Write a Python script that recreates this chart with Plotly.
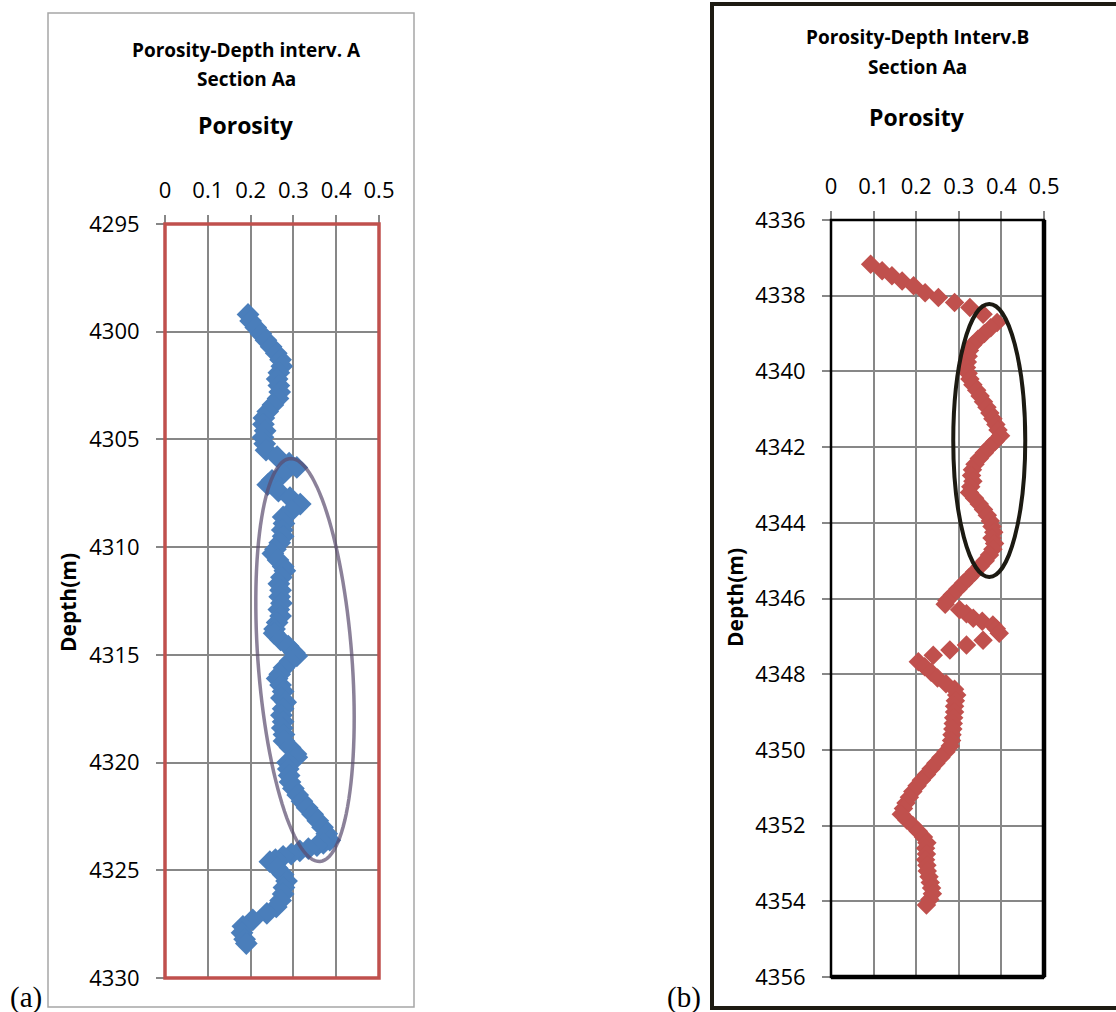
import numpy as np
import plotly.graph_objects as go

W, H = 1116, 1012

# ---------------- data ----------------
depth_a = [4299.2, 4299.5, 4299.8, 4300.1, 4300.4, 4300.7, 4301.0, 4301.3, 4301.6, 4301.9,
           4302.2, 4302.5, 4302.8, 4303.1, 4303.4, 4303.7, 4304.0, 4304.3, 4304.6, 4304.9,
           4305.2, 4305.5, 4305.8, 4306.1, 4306.3, 4306.6, 4306.9, 4307.1, 4307.4, 4307.7,
           4308.0, 4308.3, 4308.6, 4308.9, 4309.2, 4309.5, 4309.8, 4310.1, 4310.3, 4310.6,
           4310.9, 4311.1, 4311.4, 4311.7, 4312.0, 4312.3, 4312.6, 4312.9, 4313.2, 4313.5,
           4313.8, 4314.0, 4314.3, 4314.6, 4314.9, 4315.05, 4315.3, 4315.6, 4315.9, 4316.1,
           4316.4, 4316.7, 4317.0, 4317.2, 4317.5, 4317.8, 4318.1, 4318.4, 4318.7, 4319.0,
           4319.3, 4319.6, 4319.75, 4320.0, 4320.3, 4320.6, 4320.9, 4321.2, 4321.5, 4321.8,
           4322.1, 4322.4, 4322.7, 4323.0, 4323.3, 4323.6, 4323.75, 4323.85, 4324.0, 4324.1,
           4324.25, 4324.35, 4324.5, 4324.6,
           4324.9, 4325.2, 4325.5, 4325.8, 4326.1, 4326.4, 4326.7, 4327.0, 4327.3, 4327.6,
           4327.9, 4328.2, 4328.4]
poro_a = [0.194, 0.200, 0.212, 0.224, 0.236, 0.248, 0.260, 0.270, 0.273, 0.266,
          0.262, 0.266, 0.268, 0.264, 0.252, 0.240, 0.231, 0.230, 0.234, 0.229,
          0.233, 0.236, 0.262, 0.290, 0.308, 0.275, 0.250, 0.240, 0.265, 0.292,
          0.316, 0.296, 0.276, 0.278, 0.274, 0.276, 0.268, 0.258, 0.252, 0.264,
          0.276, 0.280, 0.272, 0.266, 0.270, 0.268, 0.272, 0.266, 0.270, 0.262,
          0.256, 0.255, 0.270, 0.288, 0.302, 0.308, 0.292, 0.278, 0.268, 0.262,
          0.270, 0.276, 0.272, 0.282, 0.276, 0.272, 0.276, 0.274, 0.278, 0.278,
          0.292, 0.306, 0.308, 0.286, 0.288, 0.290, 0.292, 0.300, 0.310, 0.320,
          0.332, 0.345, 0.357, 0.368, 0.378, 0.385, 0.370, 0.355, 0.335, 0.315,
          0.295, 0.276, 0.258, 0.245,
          0.262, 0.276, 0.284, 0.278, 0.276, 0.270, 0.260, 0.238, 0.205, 0.182,
          0.180, 0.186, 0.190]

depth_b = [4337.17, 4337.34, 4337.47, 4337.61, 4337.74, 4337.92, 4338.05, 4338.18, 4338.31, 4338.49,
           4338.71, 4338.85, 4339.0, 4339.15, 4339.3, 4339.45, 4339.6, 4339.75, 4339.9, 4340.05,
           4340.2, 4340.35, 4340.5, 4340.65, 4340.8, 4340.95, 4341.1, 4341.25, 4341.4, 4341.55,
           4341.7, 4341.85, 4342.0, 4342.15, 4342.3, 4342.45, 4342.6, 4342.75, 4342.9, 4343.05,
           4343.2, 4343.35, 4343.5, 4343.65, 4343.8, 4343.95, 4344.1, 4344.25, 4344.4, 4344.55,
           4344.7, 4344.85, 4345.0, 4345.15, 4345.3, 4345.45, 4345.6, 4345.75, 4345.9, 4346.05,
           4346.15, 4346.3, 4346.4, 4346.52, 4346.6, 4346.7, 4346.8, 4346.92, 4347.1, 4347.23,
           4347.36, 4347.5, 4347.67, 4347.8, 4347.95, 4348.1, 4348.25, 4348.4, 4348.55, 4348.7,
           4348.85, 4349.0, 4349.15, 4349.3, 4349.45, 4349.6, 4349.75, 4349.9, 4350.05, 4350.2,
           4350.35, 4350.5, 4350.65, 4350.8, 4350.95, 4351.1, 4351.25, 4351.4, 4351.55, 4351.7,
           4351.85, 4352.0, 4352.15, 4352.3, 4352.45, 4352.6, 4352.75, 4352.9, 4353.05, 4353.2,
           4353.35, 4353.5, 4353.65, 4353.8, 4353.95, 4354.1]
poro_b = [0.093, 0.120, 0.143, 0.167, 0.194, 0.221, 0.252, 0.290, 0.326, 0.357,
          0.390, 0.375, 0.360, 0.345, 0.332, 0.325, 0.322, 0.320, 0.318, 0.322,
          0.326, 0.333, 0.342, 0.350, 0.358, 0.366, 0.373, 0.380, 0.387, 0.392,
          0.398, 0.385, 0.372, 0.360, 0.348, 0.338, 0.332, 0.330, 0.333, 0.328,
          0.325, 0.337, 0.348, 0.358, 0.367, 0.374, 0.378, 0.382, 0.378, 0.384,
          0.380, 0.372, 0.362, 0.350, 0.337, 0.324, 0.311, 0.298, 0.285, 0.272,
          0.268, 0.302, 0.318, 0.334, 0.355, 0.380, 0.388, 0.395, 0.357, 0.318,
          0.279, 0.240, 0.205, 0.220, 0.235, 0.250, 0.270, 0.290, 0.295, 0.292,
          0.290, 0.290, 0.288, 0.287, 0.286, 0.284, 0.283, 0.280, 0.270, 0.258,
          0.246, 0.235, 0.224, 0.212, 0.202, 0.192, 0.184, 0.176, 0.170, 0.165,
          0.178, 0.192, 0.205, 0.217, 0.225, 0.222, 0.224, 0.222, 0.225, 0.226,
          0.230, 0.233, 0.236, 0.238, 0.232, 0.224]

x_ticks = [0, 0.1, 0.2, 0.3, 0.4, 0.5]
x_tick_labels = ["0", "0.1", "0.2", "0.3", "0.4", "0.5"]
y_ticks_a = [4295, 4300, 4305, 4310, 4315, 4320, 4325, 4330]
y_ticks_b = [4336, 4338, 4340, 4342, 4344, 4346, 4348, 4350, 4352, 4354, 4356]

# ---------------- layout geometry (pixels) ----------------
A_X0, A_X1, A_Y0, A_Y1 = 165, 379, 224, 978
B_X0, B_X1, B_Y0, B_Y1 = 831, 1044, 220, 977


def px(x):
    return x / W


def py(y):
    return 1 - y / H


FONT = "Open Sans"
fig = go.Figure()

fig.add_trace(go.Scatter(x=poro_a, y=depth_a, mode="markers", xaxis="x", yaxis="y",
                         marker=dict(symbol="diamond", size=17.5, color="#4a7ebb", line=dict(width=0)),
                         showlegend=False, hoverinfo="x+y"))
fig.add_trace(go.Scatter(x=poro_b, y=depth_b, mode="markers", xaxis="x2", yaxis="y2",
                         marker=dict(symbol="diamond", size=15, color="#c0504d", line=dict(width=0)),
                         showlegend=False, hoverinfo="x+y"))

axis_common = dict(showgrid=True, gridcolor="#878787", gridwidth=1.5, zeroline=False,
                   ticks="outside", ticklen=8, tickcolor="#878787", tickwidth=1.5, automargin=False,
                   tickfont=dict(family=FONT, size=22, color="#000"), showline=False)

fig.update_layout(
    width=W, height=H, margin=dict(l=0, r=0, t=0, b=0, pad=0), autosize=False,
    paper_bgcolor="white", plot_bgcolor="white",
    xaxis=dict(domain=[px(A_X0), px(A_X1)], range=[0, 0.5], side="top", anchor="y",
               tickvals=x_ticks, ticktext=x_tick_labels, ticklabelstandoff=8, **axis_common),
    yaxis=dict(domain=[py(A_Y1), py(A_Y0)], range=[4330, 4295], anchor="x",
               tickvals=y_ticks_a, ticklabelstandoff=12, **axis_common),
    xaxis2=dict(domain=[px(B_X0), px(B_X1)], range=[0, 0.5], side="top", anchor="y2",
                tickvals=x_ticks, ticktext=x_tick_labels, ticklabelstandoff=8, **axis_common),
    yaxis2=dict(domain=[py(B_Y1), py(B_Y0)], range=[4356, 4336], anchor="x2",
                tickvals=y_ticks_b, ticklabelstandoff=12, **axis_common),
)

shapes = []
# outer frames
shapes.append(dict(type="rect", xref="paper", yref="paper", x0=px(48), x1=px(414), y0=py(1007), y1=py(13),
                   line=dict(color="#a6a6a6", width=1.5), layer="below"))
shapes.append(dict(type="rect", xref="paper", yref="paper", x0=px(712), x1=px(1124), y0=py(1008), y1=py(4),
                   line=dict(color="#1e1b12", width=4), layer="below"))
# plot area borders
shapes.append(dict(type="rect", xref="x domain", yref="y domain", x0=0, x1=1, y0=0, y1=1,
                   line=dict(color="#c0504d", width=3.5), layer="above"))
shapes.append(dict(type="rect", xref="x2 domain", yref="y2 domain", x0=0, x1=1, y0=0, y1=1,
                   line=dict(color="#000000", width=2.5), layer="above"))
shapes.append(dict(type="line", xref="x2 domain", yref="y2 domain", x0=0, x1=1, y0=0, y1=0,
                   line=dict(color="#000000", width=4.5), layer="above"))
shapes.append(dict(type="line", xref="x2 domain", yref="y2 domain", x0=1, x1=1, y0=0, y1=1,
                   line=dict(color="#000000", width=4.5), layer="above"))

# tilted ellipse (annotation) for panel A, built in pixel space then mapped to data units
cx, cy, a_len, b_len = 305.0, 660.0, 202.0, 47.0
ang = np.arctan2(404.0, 30.0)
t = np.linspace(0, 2 * np.pi, 120)
ex = cx + a_len * np.cos(t) * np.cos(ang) - b_len * np.sin(t) * np.sin(ang)
ey = cy + a_len * np.cos(t) * np.sin(ang) + b_len * np.sin(t) * np.cos(ang)
ep = (ex - A_X0) / (A_X1 - A_X0) * 0.5
ed = 4295 + (ey - A_Y0) / (A_Y1 - A_Y0) * 35
path = "M " + " L ".join(f"{p:.5f},{d:.4f}" for p, d in zip(ep, ed)) + " Z"
shapes.append(dict(type="path", xref="x", yref="y", path=path,
                   line=dict(color="rgba(90,75,110,0.7)", width=3.5), layer="above"))
# ellipse for panel B
shapes.append(dict(type="circle", xref="x2", yref="y2", x0=0.287, x1=0.456, y0=4338.22, y1=4345.43,
                   line=dict(color="#1c1a12", width=4), layer="above"))
fig.update_layout(shapes=shapes)

ann = []


def text(x, y, s, size, bold=True, family=FONT, angle=0):
    ann.append(dict(x=px(x), y=py(y), xref="paper", yref="paper", text=(f"<b>{s}</b>" if bold else s),
                    showarrow=False, textangle=angle, xanchor="center", yanchor="middle",
                    font=dict(family=family, size=size, color="#000")))


text(246, 50, "Porosity-Depth interv. A", 19)
text(246, 79, "Section Aa", 19)
text(246, 125, "Porosity", 23)
text(68, 603, "Depth(m)", 21, angle=-90)
text(917, 37, "Porosity-Depth Interv.B", 19)
text(917, 67, "Section Aa", 19)
text(917, 117, "Porosity", 23)
text(735, 598, "Depth(m)", 21, angle=-90)
text(26, 997, "(a)", 29, bold=False, family="Liberation Serif")
text(684, 997, "(b)", 29, bold=False, family="Liberation Serif")
fig.update_layout(annotations=ann)

fig.write_html("out.html", config={"responsive": False, "displayModeBar": False},
               post_script="document.body.style.margin='0px';document.body.style.overflow='hidden';")
